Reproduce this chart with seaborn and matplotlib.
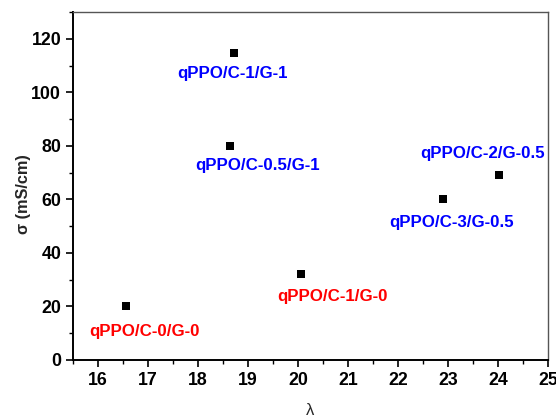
import matplotlib
matplotlib.use("Agg")
import matplotlib.pyplot as plt
import seaborn as sns
import pandas as pd
from matplotlib.ticker import MultipleLocator

names = ["qPPO/C-0/G-0", "qPPO/C-1/G-0", "qPPO/C-0.5/G-1", "qPPO/C-1/G-1",
         "qPPO/C-3/G-0.5", "qPPO/C-2/G-0.5"]
lam = [16.55, 20.05, 18.63, 18.72, 22.9, 24.02]
sigma = [20.2, 32.0, 80.1, 114.8, 60.2, 69.1]
label_colors = ["#ff0000", "#ff0000", "#0000ff", "#0000ff", "#0000ff", "#0000ff"]
label_x = [16.93, 20.68, 19.2, 18.69, 23.07, 23.69]
label_y = [10.6, 23.6, 72.5, 107.0, 51.3, 77.0]

sns.set_theme(style="ticks")
plt.rcParams['font.family'] = ['Liberation Sans', 'DejaVu Sans']

df = pd.DataFrame({"lam": lam, "sigma": sigma})

fig = plt.figure(figsize=(5.56, 4.16), dpi=100)
ax = fig.add_axes([73/556, 1 - 360/416, (548-73)/556, (360-12)/416])
sns.scatterplot(data=df, x="lam", y="sigma", marker="s", color="black", s=40,
                edgecolor="black", linewidth=0, ax=ax, zorder=3)

for n, x, y, c in zip(names, label_x, label_y, label_colors):
    ax.text(x, y, n, color=c, fontsize=12.2, fontweight="bold", ha="center", va="center")

ax.set_xlim(15.5, 25)
ax.set_ylim(0, 130)
ax.xaxis.set_major_locator(MultipleLocator(1))
ax.xaxis.set_minor_locator(MultipleLocator(0.5))
ax.yaxis.set_major_locator(MultipleLocator(20))
ax.yaxis.set_minor_locator(MultipleLocator(10))
ax.tick_params(axis="both", which="major", direction="out", length=5, width=1.2,
               labelsize=12.8, color="black", labelcolor="black")
ax.tick_params(axis="both", which="minor", direction="out", length=3, width=1.0, color="black")
for lbl in ax.get_xticklabels() + ax.get_yticklabels():
    lbl.set_fontweight("bold")

for s in ["left", "bottom"]:
    ax.spines[s].set_linewidth(1.4)
    ax.spines[s].set_color("black")
for s in ["top", "right"]:
    ax.spines[s].set_linewidth(1.0)
    ax.spines[s].set_color("#555555")

ax.set_xlabel("λ", fontsize=12, labelpad=10)
ax.set_ylabel("σ (mS/cm)", fontsize=11.7, fontweight="bold")
ax.yaxis.set_label_coords(-0.088, 0.477)

fig.savefig("out.png", dpi=100)
